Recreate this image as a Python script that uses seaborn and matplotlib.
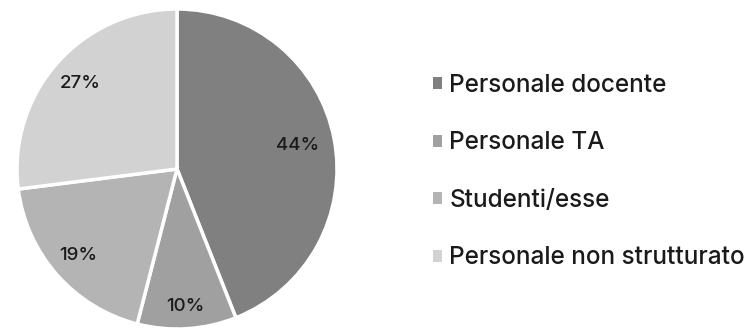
import matplotlib
matplotlib.use("Agg")
import matplotlib.pyplot as plt
import seaborn as sns
import numpy as np
from matplotlib.patches import Patch

sns.set_theme(style="white")
plt.rcParams['font.family'] = ['Inter', 'DejaVu Sans']

categories = ["Personale docente", "Personale TA", "Studenti/esse", "Personale non strutturato"]
values = [44, 10, 19, 27]
colors = ["#808080", "#a0a0a0", "#b4b4b4", "#d2d2d2"]

fig = plt.figure(figsize=(7.54, 3.32), dpi=100)
ax = fig.add_axes([17/754, 3/332, 320/754, 320/332])
wedges, texts, autotexts = ax.pie(values, colors=colors, startangle=90, counterclock=False,
                                  autopct=lambda p: f"{p:.0f}%", pctdistance=0.8,
                                  wedgeprops=dict(edgecolor="white", linewidth=2.5),
                                  textprops=dict(fontsize=13.5, color="#1a1a1a", fontweight="medium"))
ax.set_xlim(-1.0, 1.0)
ax.set_ylim(-1.0, 1.0)
ax.set_aspect("equal")

radial = [0.77, 0.86, 0.82, 0.81]
for w, t, r in zip(wedges, autotexts, radial):
    ang = np.deg2rad((w.theta1 + w.theta2) / 2)
    t.set_position((r * np.cos(ang), r * np.sin(ang)))

handles = [Patch(facecolor=c, edgecolor="none") for c in colors]
fig.legend(handles, categories, loc="upper left", bbox_to_anchor=(411/754, 1 - 52/332),
           frameon=False, handlelength=0.38, handleheight=0.38,
           handletextpad=0.3, labelspacing=1.42, labelcolor="#1a1a1a",
           prop=dict(family=['Inter', 'DejaVu Sans'], size=17.5, weight="medium"))

fig.savefig("out.png", dpi=100)
